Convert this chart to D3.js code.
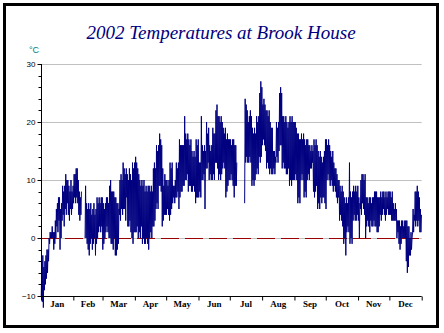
<!DOCTYPE html>
<html><head><meta charset="utf-8">
<script src="https://cdn.jsdelivr.net/npm/d3@7"></script>
<style>html,body{margin:0;padding:0;background:#fff;}svg{display:block;}</style>
</head><body>
<script>
const title = "2002 Temperatures at Brook House";
const unitLabel = "°C";
const months = ["Jan","Feb","Mar","Apr","May","Jun","Jul","Aug","Sep","Oct","Nov","Dec"];
const monthStartDays = [0,31,59,90,120,151,181,212,243,273,304,334,365];
const yTicks = [-10,0,10,20,30];
const gridValues = [0,10,20,30];
const zeroLine = 0;
// daily minimum temperature (°C), null = missing reading
const dailyLow = [
  -10,-11,-12,-9,-8,-7,-6,-4,-1,0, 0,0,-2,-1,0,2,1,3,-2,0, 3,4,2,5,4,6,4,3,5,4, 5,
  6,7,6,7,6, 4,3,4, null,null,null, 0, 0,-1,-2,-3,-1,0,-2,-1,0,-3,-1,0,1,2,1,2,
  -2,-1,0,1,2,1,0,0,-1,-1, -2,0,-3,-3,-2,-1,4,3,5,4, 5,5,3,7,2,2,3,1,0,-1, 1,
  1,1,2,0,1,0,2,-1,0,-1, -1,0,-1,-2,0,1,0,2,2,3, 5,6,5,9,9,8,2,3,4,4,
  4,5,4,3,4,5,6,7,6,7, 7,8,5,7,8,8,9,9,10,10, 11,8,9,9,8,8,9,8,6,7, 7,
  7,8,7,10,10,11,5,12,12,13, 10,11,10,10,11,10,13,13,12,10, 11,10,11,12,13,12,7,8,9,10,
  10,11,10,9,7,9,9, null,null,null,null,null,null,null, 6,13,14,13,13,14,13,9,10,9,10,11,12,11,14,13,14,
  16,17,16,15, 12,13,12, 11,12,11, 11,12,11, 13,14,13, 15,16,16, 12,13,12,12, 11,11,12, 9,10,9,10,10,
  10,11,10, 6,7,6, 10,11,10, 7,8,7, 10,11,10, 12,12,13, 8,7,8,9, 5,6,5, 7,6,7, 7,6,
  5,10,11,10, 9,10,9, 8,9,8, 7,6,7, 3,4,3,2, -1,0,-3, 1,2,1, -1,0,-1, 3,4,3,3,4,
  3,0,5,4,6,5,4,0,2,3, 2,1,3,2,2,3,2,2,1,1, 2,4,3,4,5,4,3,4,5,4,
  4,4,3,3,3,3,3,0,1,-1, -2,-1,0,0,0,0,-4,-6,-5,-3, -3,-2,1,1,3,2,3,2,3,1, 1
];
// daily maximum temperature (°C)
const dailyHigh = [
  -4,-3,-5,-4,-3,-2,-2,0,1,1, 2,1,1,3,5,6,7,7,5,6, 9,8,9,11,10,10,9,8,10,8, 9,
  11,11,12,12,10, 8,7,8, null,null,null, 9, 6,5,6,5,6,4,5,6,4,5,7,6,7,6,7,7,
  6,5,6,7,7,6,9,10,8,8, 8,7,7,6,6,5,10,11,10,13, 12,11,12,11,10,12,11,10,13,12, 13,
  14,13,12,11,10,9,10,9,10,8, 9,8,9,9,8,9,8,12,13,12, 16,15,16,18,17,16,12,9,11,10,
  10,9,10,13,12,13,9,9,10,13, 12,13,17,16,16,16,16,21,18,17, 18,17,16,17,15,14,15,14,17,16, 17,
  13,13,21,16,15,16,15,20,18,19, 16,15,16,19,18,18,22,23,21,21, 20,21,20,19,18,19,17,18,17,17,
  17,16,17,17,16,16,13, null,null,null,null,null,null,null, 24,23,22,20,21,22,21,19,18,19,18,21,20,21,25,27,26,
  23,24,23,22, 22,21,22, 20,19,19, 15,15,14, 20,19,20, 25,26,25, 21,21,20,21, 20,19,20, 21,20,21,20,20,
  20,19,18, 18,17,17, 18,17,18, 17,16,17, 17,16,16, 15,16,15, 17,16,17,16, 15,14,15, 14,13,14, 15,17,
  17,16,17,16, 15,14,15, 13,12,12, 11,10,10, 9,8,9,8, 7,6,7, 6,7,13, 8,7,8, 9,8,9,8,9,
  7,6,10,11,11,10,11,7,7,6, 7,7,6,7,7,8,8,8,7,7, 7,8,7,8,8,7,8,7,8,8,
  8,7,8,6,5,6,5,3,3,3, 2,3,3,2,3,3,3,2,2,0, 1,0,5,4,8,8,9,8,7,5, 4
];

const W = 444, H = 333;
const svg = d3.select("body").append("svg").attr("width", W).attr("height", H);
svg.append("rect").attr("x",0).attr("y",0).attr("width",W).attr("height",H).attr("fill","#fff");
svg.append("rect").attr("x",4.5).attr("y",4.5).attr("width",433).attr("height",322)
  .attr("fill","none").attr("stroke","#000").attr("stroke-width",3);

const x = d3.scaleLinear().domain([0,365]).range([41,421.7]);
const y = d3.scaleLinear().domain([-10,30]).range([296,64]);

// title
svg.append("text").attr("x",221).attr("y",39).attr("text-anchor","middle")
  .attr("font-family","'Liberation Serif','Times New Roman',serif").attr("font-style","italic")
  .attr("font-size",19).attr("fill","#000080").text(title);
svg.append("text").attr("x",29).attr("y",53)
  .attr("font-family","'Liberation Sans',Arial,sans-serif").attr("font-size",9)
  .attr("fill","#008080").text(unitLabel);

// grid
svg.append("g").selectAll("line").data(gridValues).join("line")
  .attr("x1",x(0)).attr("x2",x(365)).attr("y1",d=>Math.round(y(d))+0.5).attr("y2",d=>Math.round(y(d))+0.5)
  .attr("stroke","#c0c0c0").attr("stroke-width",1);
svg.append("line").attr("x1",x(0)).attr("x2",x(365))
  .attr("y1",Math.round(y(zeroLine))+0.5).attr("y2",Math.round(y(zeroLine))+0.5)
  .attr("stroke","#990000").attr("stroke-width",1).attr("stroke-dasharray","18,6");

// data path
const pts = [];
dailyLow.forEach((lo,i)=>{
  const hi = dailyHigh[i];
  pts.push({d:i+0.25, v:lo});
  pts.push({d:i+0.75, v:hi});
});
const line = d3.line().defined(p=>p.v!==null).x(p=>x(p.d)).y(p=>y(p.v));
svg.append("path").attr("d",line(pts)).attr("fill","none")
  .attr("stroke","#000080").attr("stroke-width",1);

// y axis
const yAxis = d3.axisLeft(y).tickValues(yTicks).tickSize(4).tickFormat(d3.format("d"));
const gy = svg.append("g").attr("transform","translate(41.5,0)").call(yAxis);
gy.select(".domain").attr("d",`M0,${y(30)}V${y(-10)}`);
gy.selectAll("text").attr("font-family","'Liberation Sans',Arial,sans-serif").attr("font-size",8).attr("x",-6);
const minor = d3.range(-10,31,2);
gy.append("g").selectAll("line").data(minor).join("line")
  .attr("x1",-3).attr("x2",0).attr("y1",d=>Math.round(y(d))+0.5).attr("y2",d=>Math.round(y(d))+0.5)
  .attr("stroke","#000");

// x axis
const xAxis = d3.axisBottom(x).tickValues(monthStartDays).tickSize(4).tickFormat("");
const gx = svg.append("g").attr("transform","translate(0,296.5)").call(xAxis);
gx.select(".domain").attr("d",`M${x(0)},0H${x(365)}`);
svg.append("g").selectAll("text").data(months).join("text")
  .attr("x",(d,i)=>x((monthStartDays[i]+monthStartDays[i+1])/2))
  .attr("y",307).attr("text-anchor","middle")
  .attr("font-family","'Liberation Serif','Times New Roman',serif").attr("font-weight","bold")
  .attr("font-size",9).attr("fill","#000").text(d=>d);
</script>
</body></html>
